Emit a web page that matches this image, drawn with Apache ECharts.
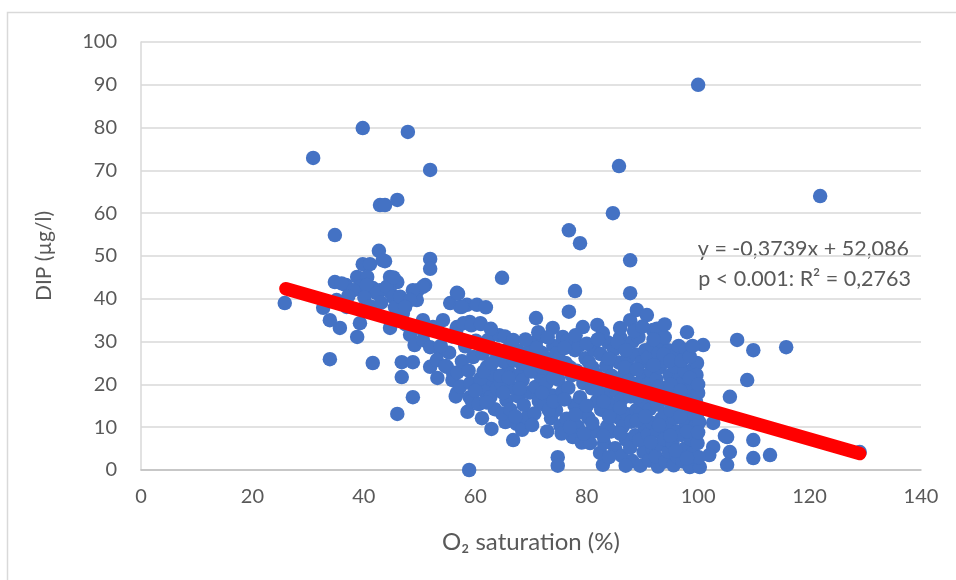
<!DOCTYPE html>
<html><head><meta charset="utf-8">
<script src="https://cdn.jsdelivr.net/npm/echarts@6/dist/echarts.min.js"></script>
<style>html,body{margin:0;padding:0;background:#fff}#c{width:956px;height:580px}</style>
</head><body><div id="c"></div>
<script>
// O2 saturation (%) vs DIP (µg/l)
const sparsePoints = [
[25.8,39],[30.9,72.9],[39.8,79.9],[47.9,79],[51.9,70.1],[42.9,61.9],[43.8,61.9],[46,63.1],[34.8,54.9],[42.7,51.2],[43.8,48.8],[51.9,49.3],[51.9,47],[39.8,48.1],[41.1,48.1],[34.8,43.9],[36.8,43.2],[38.8,45.1],[40.6,45.1],[44.7,45.1],[46,43.9],[49.7,42],[51,43.2],[39.3,42.8],[41.6,42.5],[42.9,42],[44.7,41.6],[32.7,37.9],[33.9,35],[35.7,33.2],[38.8,31.1],[33.9,25.9],[41.6,25],[46.8,25.2],[48.8,25.2],[46.8,21.7],[48.8,17],[46,13.1],[58.9,0],[39.3,34.3],[44.7,33.2],[47,36.7],[49.5,39.7],[50.6,42.8],[48.8,42],
[36,43.6],[38.1,42],[40.5,43.2],[42.3,41.3],[44.1,42.8],[45.3,40.4],[35.1,39.7],[36.9,38.1],[37.2,40.6],[40.1,40.3],[41.2,38.2],[43.1,39.1],[45.6,38.0],[46.5,40.5],[47.5,34.0],[48.3,31.6],[49.1,29.2],[50.2,33.1],[43.4,49],[45.3,45],[48.3,39.7],[47.4,38.1],[50.6,35],[52.4,33.4],[50.6,30.4],[51.9,28.7],[53.7,28],[51.9,24.1],[54.9,24.1],[56,22.7],[53.1,25.7],[56.7,33.4],[59,34.6],[60.9,34.3],[55.5,39],[56.7,41.4],[57.3,38.1],[58.5,38.6],[56.7,18],[59,17],[60.9,20.3],[62.6,21],[63.9,28],[63.9,18.7],
[100.9,29.2],[107,30.4],[109.9,28],[115.8,28.7],[108.8,21],[105.7,17.1],[102.7,11],[105.2,7.7],[105.7,4.2],[109.9,7],[109.9,2.8],[112.9,3.5],[105.2,1.2],[102.7,5.4],[102,3.5],[104.8,8],[121.9,64],[100,90],[129,4.2],
[84.7,60],[85.8,71],[76.8,56],[78.8,53],[87.8,49],[64.8,44.9],[77.9,41.8],[87.8,41.3],[76.8,37]
];
const densePoints = [
[53.2,21.5],[54.6,24.3],[55.3,27.4],[53.8,29],[55.8,31.2],[54.2,35],[55.9,21],[56.5,17.2],
[57.3,19.5],[56.8,22.8],[57.6,25.4],[58.2,28.9],[56.6,32.7],[57.9,34.3],[57.6,38.1],[56.9,41.2],
[58.6,13.6],[59.4,16.1],[59.1,20.3],[58.8,23.2],[59.6,26.4],[60.1,30.2],[59.3,33.8],[60.3,38.6],
[61.2,12.1],[60.6,15.4],[61.8,18.2],[60.9,21.3],[62.1,24.1],[61.3,27.2],[62.3,30.4],[61.0,34.1],[61.9,38.0],
[62.9,9.6],[63.5,14.2],[62.7,17.0],[63.9,19.0],[63.2,22.3],[64.1,26.0],[63.3,28.1],[64.3,31.5],
[65.4,11.2],[64.8,13.2],[65.6,16.3],[64.6,20.4],[65.9,23.1],[65.1,25.3],[66.0,28.4],[65.3,31.2],
[66.8,7.0],[67.4,10.8],[66.3,14.1],[67.7,17.2],[66.6,19.3],[67.9,22.2],[66.9,25.6],[67.6,28.0],[66.8,30.4],
[68.4,9.4],[69.3,12.3],[68.7,15.2],[69.8,18.1],[68.5,21.0],[69.6,24.2],[68.9,27.3],[70.0,29.4],
[70.6,13.2],[71.4,16.1],[70.8,19.4],[71.7,22.0],[70.4,25.1],[71.9,27.4],[70.9,30.0],[71.3,32.2],[70.9,35.5],
[72.9,9.0],[73.6,12.1],[72.4,15.3],[73.8,17.4],[72.7,20.1],[73.4,23.3],[72.6,26.2],[74.0,29.0],[73.9,33.2],
[74.8,3.0],[74.8,1.0],[75.3,10.3],[74.5,14.0],[75.6,18.2],[74.9,21.1],[75.8,24.4],[74.6,27.3],[75.7,31.1],
[77.5,7.7],[76.4,12.0],[77.8,15.1],[76.7,19.2],[77.3,22.1],[76.2,25.0],[77.9,28.0],[76.6,30.2],
[79.1,6.4],[78.4,10.1],[79.7,13.3],[78.8,17.0],[79.4,20.3],[78.2,23.2],[79.8,26.1],[78.6,29.0],[79.3,33.4],
[80.6,6.3],[81.5,9.1],[80.3,12.2],[81.8,16.0],[80.9,19.1],[81.6,22.4],[80.4,25.2],[81.3,28.1],[81.9,33.9],
[82.9,1.2],[82.4,4.0],[83.1,6.3],[83.7,10.2],[82.6,14.1],[83.9,18.0],[82.8,21.2],[83.5,24.3],[82.5,27.1],[83.8,29.8],[82.9,32.0],
[85.1,5.1],[84.4,9.0],[85.6,12.3],[84.7,15.2],[85.3,18.4],[84.5,22.0],[85.8,25.1],[84.9,28.2],[86.0,31.0],
[86.3,3.3],[87.0,7.1],[86.5,10.2],[87.3,13.0],[86.2,16.4],[87.1,19.1],[86.7,22.3],[87.4,26.0],[86.4,29.1],[86.0,33.2],
[88.2,2.1],[87.8,5.2],[88.7,8.1],[88.0,11.3],[88.9,14.0],[87.9,17.2],[88.6,20.1],[88.1,23.4],[88.8,27.0],[88.3,30.1],[87.8,35.0],
[89.6,1.0],[90.2,4.2],[89.4,7.0],[90.4,10.1],[89.7,13.2],[90.3,16.0],[89.5,19.3],[90.1,22.1],[89.8,25.2],[90.5,28.0],[89.3,31.1],[89.0,37.4],
[91.2,2.2],[91.8,5.0],[91.0,8.3],[91.7,11.0],[91.3,14.2],[91.9,17.0],[91.1,20.2],[91.6,23.1],[91.0,26.3],[91.8,29.0],[91.9,32.7],[90.8,36.2],
[92.8,0.8],[92.4,3.2],[93.2,6.0],[92.6,9.1],[93.4,12.0],[92.7,15.3],[93.3,18.1],[92.5,21.2],[93.1,24.0],[92.9,27.3],[93.4,30.1],[92.6,33.0],
[94.1,2.0],[94.7,4.3],[93.9,7.2],[94.6,10.0],[94.0,13.1],[94.8,16.2],[94.3,19.0],[94.9,22.1],[94.2,25.3],[94.7,28.0],[94.0,31.0],
[95.6,1.1],[96.2,3.1],[95.4,6.2],[96.3,9.0],[95.7,12.1],[96.1,15.0],[95.5,18.2],[96.4,21.0],[95.8,24.1],[96.0,27.2],[96.5,29.0],
[97.2,2.0],[97.7,5.1],[97.0,8.2],[97.8,11.0],[97.3,14.2],[97.9,17.1],[97.1,20.3],[97.6,23.0],[97.8,28.1],[98.0,32.2],
[98.5,0.7],[99.1,4.0],[98.7,7.2],[99.4,10.1],[98.9,13.2],[99.6,16.0],[98.6,19.2],[99.3,24.0],[99.8,25.0],[100.3,0.7],[100.1,3.0],[99.9,6.3],[100.2,11.2],[100.0,18.0],[99.7,22.2]
];
const fillPoints = [
[60,18.5],[62,15.8],[61.5,23],[63,25],[62.8,33],[64.5,22],[65,18],[66,21.5],[67.2,12.5],[68,19],[68.2,25],[69,30.5],[70,23],[70.2,10.5],[71,28.5],[72,18],[72,24],[73,31],[73.2,14],[74,21.5],[74,16],[75,26],[75.5,8.5],[76,16.5],[76,28.5],[77,10],[77,24],[78,13],[78,31.5],[79,22],[79.5,8.5],[80,15],[80,29.5],[81,11],[81,24],[82,18.5],[82,30.5],[83,8],[83,16],[84,12.5],[84,26],[84,3],[85,20],[85.5,29.8],[86,8.5],[86,14.5],[86.8,24],[87.5,20.8],[87,28],[87,1],[88.5,32.5],[89,11.5],[89,17],[89,23.5],[90,33.5],[90.5,12.5],[90.8,18.5],[91.5,6.5],[92,24.5],[92,30.5],[93,10.5],[93,19.5],[93.8,27],[94,34],[95,8],[95,14],[95,20],[95,25.5],[96,4.5],[96.8,12.5],[96.8,18.5],[97,25.5],[98,2.8],[98,9],[98.2,15],[98.5,21.5],[98.5,26.5],[99,29],[100,8.8],[100,13.5],[100,20]
];
const xTicks = [0,20,40,60,80,100,120,140];
const yTicks = [0,10,20,30,40,50,60,70,80,90,100];
const trendSlope = -0.3739, trendIntercept = 52.086;
const trendRange = [26, 129];
const eqLine1 = 'y = -0,3739x + 52,086';
const eqLine2 = 'p < 0.001: R² = 0,2763';

const FONT = 'Lato';
const trendData = trendRange.map(x => [x, trendSlope * x + trendIntercept]);
const chart = echarts.init(document.getElementById('c'));
chart.setOption({
  animation: false,
  backgroundColor: '#fff',
  grid: {left: 141, right: 35, top: 42, bottom: 110},
  xAxis: {
    type: 'value', min: xTicks[0], max: xTicks[xTicks.length-1], interval: 20,
    name: 'O₂ saturation (%)', nameLocation: 'middle', nameGap: 60,
    nameTextStyle: {color: '#595959', fontSize: 24, fontFamily: FONT},
    axisLine: {show: true, lineStyle: {color: '#BFBFBF', width: 1.5}},
    axisTick: {show: false},
    splitLine: {show: false},
    axisLabel: {color: '#595959', fontSize: 20, fontFamily: FONT, margin: 17}
  },
  yAxis: {
    type: 'value', min: yTicks[0], max: yTicks[yTicks.length-1], interval: 10,
    name: 'DIP (µg/l)', nameLocation: 'middle', nameGap: 86, nameRotate: 90,
    nameTextStyle: {color: '#595959', fontSize: 21, fontFamily: FONT},
    axisLine: {show: true, lineStyle: {color: '#D9D9D9', width: 1.5}},
    axisTick: {show: false},
    splitLine: {show: true, lineStyle: {color: '#D9D9D9', width: 1.5}},
    axisLabel: {color: '#595959', fontSize: 20, fontFamily: FONT, margin: 24}
  },
  series: [
    {type: 'scatter', data: sparsePoints.concat(densePoints, fillPoints), symbolSize: 14.5,
     itemStyle: {color: '#4472C4', opacity: 1}, z: 2},
    {type: 'line', data: trendData, showSymbol: false, symbol: 'none',
     lineStyle: {color: '#FF0000', width: 13.5, cap: 'round'}, z: 3}
  ],
  graphic: [
    {type: 'rect', shape: {x: 7.5, y: 12.5, width: 1000, height: 1000},
     style: {fill: 'none', stroke: '#D9D9D9', lineWidth: 1.5}, silent: true, z: -10},
    {type: 'text', right: 47, top: 238,
     style: {text: eqLine1, fill: '#595959', fontSize: 21.5, fontFamily: FONT, align: 'right'}},
    {type: 'text', right: 45, top: 268,
     style: {text: eqLine2, fill: '#595959', fontSize: 21.5, fontFamily: FONT, align: 'right'}}
  ]
});
</script></body></html>
